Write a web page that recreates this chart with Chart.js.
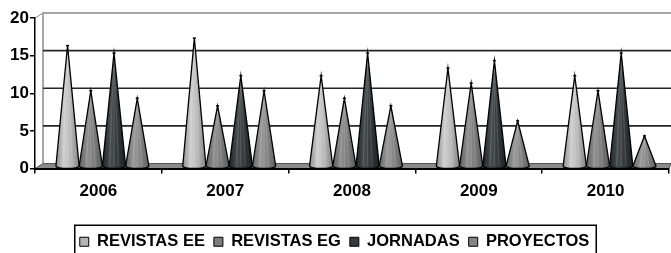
<!DOCTYPE html>
<html>
<head>
<meta charset="utf-8">
<script src="https://cdn.jsdelivr.net/npm/chart.js@4.4.0/dist/chart.umd.min.js"></script>
<style>
  html, body { margin: 0; padding: 0; background: #fff; }
  #wrap { width: 671px; height: 253px; }
</style>
</head>
<body>
<div id="wrap"><canvas id="chart"></canvas></div>
<script>
let years = ['2006', '2007', '2008', '2009', '2010'];
let seriesNames = ['REVISTAS EE', 'REVISTAS EG', 'JORNADAS', 'PROYECTOS'];
let revistasEE = [16, 17, 12, 13, 12];
let revistasEG = [10, 8, 9, 11, 10];
let jornadas = [15, 12, 15, 14, 15];
let proyectos = [9, 10, 8, 6, 4];
let yTicks = [0, 5, 10, 15, 20];

let fontFamily = '"Liberation Sans", Arial, sans-serif';
let depthX = 8, depthY = -5;

// swatch colour + gradient stops for each cone
let swatches = ['#b4b4b4', '#7e7e7e', '#34393b', '#858585'];
let shades = [
  ['#8e8e8e', '#cfcfcf', '#b6b6b6', '#828282'],
  ['#5e5e5e', '#909090', '#7c7c7c', '#5a5a5a'],
  ['#1f2325', '#474d50', '#33383a', '#1c2022'],
  ['#666666', '#999999', '#848484', '#5f5f5f']
];

function coneGradient(ctx, left, w, stops) {
  let g = ctx.createLinearGradient(left, 0, left + w, 0);
  g.addColorStop(0, stops[0]);
  g.addColorStop(0.35, stops[1]);
  g.addColorStop(0.65, stops[2]);
  g.addColorStop(1, stops[3]);
  return g;
}

let wallPlugin = {
  id: 'wall',
  beforeDraw(chart) {
    let ctx = chart.ctx;
    let area = chart.chartArea;
    let y = chart.scales.y;
    let bx = area.left + depthX;
    let farRight = chart.width;
    let y0 = y.getPixelForValue(0);
    let yTop = y.getPixelForValue(20);
    ctx.save();

    // floor
    ctx.fillStyle = '#8a8a8a';
    ctx.beginPath();
    ctx.moveTo(area.left, y0);
    ctx.lineTo(bx, y0 + depthY);
    ctx.lineTo(farRight, y0 + depthY);
    ctx.lineTo(area.right, y0);
    ctx.closePath();
    ctx.fill();
    ctx.strokeStyle = '#555';
    ctx.lineWidth = 1;
    ctx.stroke();

    // back wall edges
    ctx.strokeStyle = '#8c8c8c';
    ctx.lineWidth = 1.5;
    ctx.beginPath();
    ctx.moveTo(bx, y0 + depthY);
    ctx.lineTo(bx, yTop + depthY);
    ctx.lineTo(farRight, yTop + depthY);
    ctx.stroke();
    ctx.lineWidth = 1;
    ctx.beginPath();
    ctx.moveTo(area.left, yTop);
    ctx.lineTo(bx, yTop + depthY);
    ctx.stroke();

    // grid lines on back wall
    ctx.strokeStyle = '#262626';
    ctx.lineWidth = 1.6;
    yTicks.forEach(v => {
      if (v === 0 || v === 20) return;
      let py = y.getPixelForValue(v) + depthY;
      ctx.beginPath();
      ctx.moveTo(bx, py);
      ctx.lineTo(farRight, py);
      ctx.stroke();
    });
    ctx.restore();
  },
  beforeDatasetsDraw(chart) {
    let ctx = chart.ctx;
    let y = chart.scales.y;
    let base = y.getPixelForValue(0) + depthY / 2;
    ctx.save();
    chart.data.datasets.forEach((ds, i) => {
      let meta = chart.getDatasetMeta(i);
      meta.data.forEach(el => {
        let cx = el.x + depthX / 2;
        let w = el.width;
        let left = cx - w / 2;
        let tip = el.y + depthY / 2;
        ctx.beginPath();
        ctx.moveTo(cx, tip);
        ctx.lineTo(left, base);
        ctx.ellipse(cx, base, w / 2, 2.5, 0, Math.PI, 0, true);
        ctx.closePath();
        ctx.fillStyle = coneGradient(ctx, left, w, shades[i]);
        ctx.fill();

        // faint streaks
        ctx.strokeStyle = 'rgba(255,255,255,0.15)';
        ctx.lineWidth = 1;
        [0.3, 0.5, 0.7].forEach(f => {
          ctx.beginPath();
          ctx.moveTo(cx, tip + 4);
          ctx.lineTo(left + w * f, base);
          ctx.stroke();
        });

        ctx.beginPath();
        ctx.moveTo(cx, tip);
        ctx.lineTo(left, base);
        ctx.ellipse(cx, base, w / 2, 2.5, 0, Math.PI, 0, true);
        ctx.closePath();
        ctx.strokeStyle = '#000';
        ctx.lineWidth = 1.3;
        ctx.stroke();

        ctx.lineWidth = 1.5;
        ctx.beginPath();
        ctx.moveTo(cx - 1.5, tip);
        ctx.lineTo(cx + 1.5, tip);
        ctx.stroke();
      });
    });
    ctx.restore();
    return false;
  },
  afterDraw(chart) {
    let hb = chart.legend.legendHitBoxes;
    if (!hb || !hb.length) return;
    let last = hb[hb.length - 1];
    let left = hb[0].left - 5;
    let right = last.left + last.width + 7;
    let mid = hb[0].top + hb[0].height / 2;
    let ctx = chart.ctx;
    ctx.save();
    ctx.strokeStyle = '#000';
    ctx.lineWidth = 1.5;
    ctx.strokeRect(left, mid - 16.5, right - left, 40);
    ctx.restore();
  }
};

let series = [revistasEE, revistasEG, jornadas, proyectos];

new Chart(document.getElementById('chart'), {
  type: 'bar',
  data: {
    labels: years,
    datasets: series.map((vals, i) => ({
      label: seriesNames[i],
      data: vals,
      backgroundColor: swatches[i],
      borderColor: '#000',
      borderWidth: 1,
      categoryPercentage: 0.733,
      barPercentage: 1
    }))
  },
  options: {
    responsive: true,
    maintainAspectRatio: false,
    animation: false,
    events: [],
    layout: { padding: { top: 18, right: 2, left: 0, bottom: -7 } },
    plugins: {
      tooltip: { enabled: false },
      legend: {
        position: 'bottom',
        labels: {
          boxWidth: 9,
          boxHeight: 9,
          padding: 9,
          color: '#000',
          font: { family: fontFamily, size: 16.5, weight: 'bold' }
        }
      }
    },
    scales: {
      x: {
        offset: true,
        grid: { offset: true, drawOnChartArea: false, tickLength: 5, color: '#000', lineWidth: 1.5 },
        border: { display: true, color: '#000', width: 2 },
        ticks: { color: '#000', padding: 8, font: { family: fontFamily, size: 17, weight: 'bold' } },
        afterFit(scale) {
          scale.height = 56;
          scale.paddingLeft = 0;
          scale.paddingRight = 0;
        }
      },
      y: {
        min: 0,
        max: 20,
        afterBuildTicks(scale) {
          scale.ticks = yTicks.map(v => ({ value: v }));
        },
        grid: { drawOnChartArea: false, tickLength: 5, color: '#000', lineWidth: 1.5 },
        border: { display: true, color: '#000', width: 1.5 },
        ticks: { color: '#000', padding: 1, font: { family: fontFamily, size: 17, weight: 'bold' } },
        afterFit(scale) {
          scale.width = 35;
          scale.paddingTop = 0;
          scale.paddingBottom = 0;
        }
      }
    }
  },
  plugins: [wallPlugin]
});
</script>
</body>
</html>
